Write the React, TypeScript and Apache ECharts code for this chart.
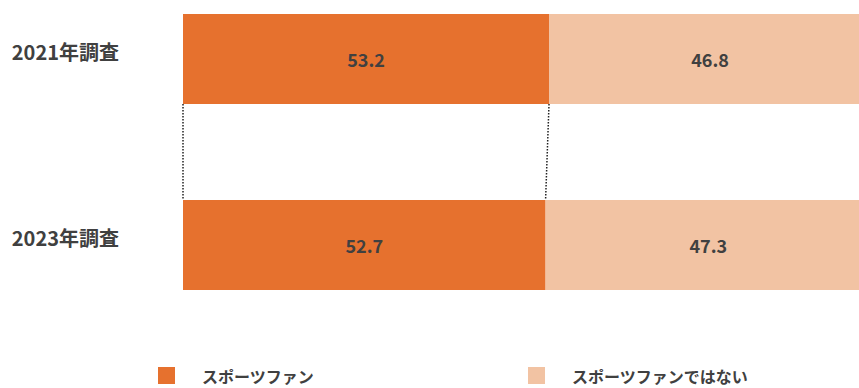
import React, { useEffect, useRef } from "react";
import * as echarts from "echarts";

const categories = ["2021年調査", "2023年調査"];
const fanValues = [53.2, 52.7];
const nonFanValues = [46.8, 47.3];
const seriesNames = ["スポーツファン", "スポーツファンではない"];

const FONT = "'Noto Sans CJK JP', 'Noto Sans', sans-serif";
const ORANGE = "#E6712E";
const PEACH = "#F2C3A3";
const TEXT = "#404040";
const BAR_W = 90;

export default function App() {
  const ref = useRef<HTMLDivElement>(null);
  useEffect(() => {
    document.body.style.margin = "0";
    const chart = echarts.init(ref.current!, null, { renderer: "svg" });
    const connectors = [
      [0, 0, 0, 1],
      [fanValues[0], 0, fanValues[1], 1],
    ];
    const valueLabel = {
      show: true,
      position: "inside",
      fontFamily: FONT,
      fontSize: 18,
      fontWeight: "bold",
      color: TEXT,
      formatter: (p: any) => p.value.toFixed(1),
    };
    const legendText = {
      fontFamily: FONT,
      fontSize: 16,
      lineHeight: 16,
      fontWeight: "bold",
      color: TEXT,
      padding: [0, 0, 0, 22],
    };
    chart.setOption({
      animation: false,
      grid: { left: 183, top: 59, width: 688, height: 186, containLabel: false },
      xAxis: { type: "value", min: 0, max: 100, show: false },
      yAxis: {
        type: "category",
        data: categories,
        inverse: true,
        boundaryGap: false,
        axisLine: { show: false },
        axisTick: { show: false },
        splitLine: { show: false },
        axisLabel: {
          margin: 64,
          formatter: (v: string) => "{a|" + v + "}",
          rich: {
            a: {
              fontFamily: FONT,
              fontSize: 20,
              fontWeight: "bold",
              color: TEXT,
              padding: [0, 0, 16, 0],
            },
          },
        },
      },
      legend: [
        {
          data: [seriesNames[0]],
          left: 158,
          top: 367,
          padding: 0,
          itemWidth: 17,
          itemHeight: 17,
          icon: "rect",
          selectedMode: false,
          textStyle: legendText,
        },
        {
          data: [seriesNames[1]],
          left: 528,
          top: 367,
          padding: 0,
          itemWidth: 17,
          itemHeight: 17,
          icon: "rect",
          selectedMode: false,
          textStyle: legendText,
        },
      ],
      series: [
        {
          name: seriesNames[0],
          type: "bar",
          stack: "total",
          barWidth: BAR_W,
          clip: false,
          data: fanValues,
          itemStyle: { color: ORANGE },
          label: valueLabel,
        },
        {
          name: seriesNames[1],
          type: "bar",
          stack: "total",
          barWidth: BAR_W,
          clip: false,
          data: nonFanValues,
          itemStyle: { color: PEACH },
          label: valueLabel,
        },
        {
          type: "custom",
          name: "connectors",
          clip: false,
          silent: true,
          data: connectors,
          renderItem: (params: any, api: any) => {
            const a = api.coord([api.value(0), api.value(1)]);
            const b = api.coord([api.value(2), api.value(3)]);
            return {
              type: "line",
              shape: { x1: a[0], y1: a[1] + BAR_W / 2, x2: b[0], y2: b[1] - BAR_W / 2 },
              style: { stroke: "#222", lineWidth: 1.5, lineDash: [1.5, 1.5] },
            };
          },
        },
      ],
    });
    return () => chart.dispose();
  }, []);
  return (
    <div style={{ position: "fixed", left: 0, top: 0, width: 859, height: 388, overflow: "hidden", background: "#fff" }}>
      <div ref={ref} style={{ width: 871, height: 388 }} />
    </div>
  );
}
